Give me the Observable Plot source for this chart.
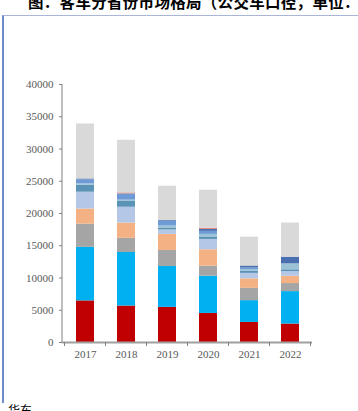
<!DOCTYPE html>
<html>
<head>
<meta charset="utf-8">
<script src="https://cdn.jsdelivr.net/npm/d3@7"></script>
<script src="https://cdn.jsdelivr.net/npm/@observablehq/plot@0.6"></script>
<style>
  html, body { margin: 0; padding: 0; background: #fff; }
  body { width: 358px; height: 411px; position: relative; overflow: hidden; }
  #title { position: absolute; left: 28px; top: -6px; font: bold 15.5px/15px "Noto Sans CJK SC", sans-serif; letter-spacing: 0.3px; white-space: nowrap; color: #000; }
  #box { position: absolute; left: 2px; top: 15px; width: 400px; height: 388px; border-top: 1px solid #A9B6D8; border-left: 2px solid #7088CC; box-sizing: border-box; }
  #chart { position: absolute; left: 0; top: 0; }
  #source { position: absolute; left: 8px; top: 404px; font: 12px/12px "Noto Sans CJK SC", sans-serif; color: #000; white-space: nowrap; }
</style>
</head>
<body>
<div id="title">图：客车分省份市场格局（公交车口径，单位：辆）</div>
<div id="box"></div>
<div id="chart"></div>
<div id="source">华东</div>
<script>
const years = ["2017", "2018", "2019", "2020", "2021", "2022"];
const seriesNames = ["S1", "S2", "S3", "S4", "S5", "S6", "S7", "S8", "S9", "S10", "其他"];
const seriesColors = ["#C00000", "#00B0F0", "#A5A5A5", "#F4B183", "#B4C7E7", "#5A93B6", "#9CC2D6", "#6E9BD6", "#4A6FAE", "#E0806E", "#D9D9D9"];

const s1  = [6450, 5650, 5450, 4510, 3110, 2860];
const s2  = [8300, 8300, 6330, 5760, 3380, 5030];
const s3  = [3600, 2200, 2490, 1560, 1910, 1250];
const s4  = [2350, 2370, 2490, 2550, 1470, 1130];
const s5  = [2600, 2450, 685, 1600, 850, 730];
const s6  = [1100, 900, 310, 390, 310, 265];
const s7  = [200, 200, 310, 390, 250, 930];
const s8  = [600, 970, 715, 470, 265, 0];
const s9  = [150, 0, 120, 310, 310, 1030];
const s10 = [0, 150, 0, 155, 0, 0];
const s11 = [8530, 8160, 5330, 5910, 4485, 5295];
const yTicks = [0, 5000, 10000, 15000, 20000, 25000, 30000, 35000, 40000];

const allSeries = [s1, s2, s3, s4, s5, s6, s7, s8, s9, s10, s11];
const data = [];
years.forEach((yr, i) => {
  allSeries.forEach((s, j) => data.push({year: yr, series: seriesNames[j], value: s[i]}));
});

const chart = Plot.plot({
  width: 358,
  height: 411,
  marginLeft: 62,
  marginRight: 46,
  marginTop: 84,
  marginBottom: 69,
  style: {background: "transparent", overflow: "visible"},
  x: {domain: years, paddingInner: 0.57, paddingOuter: 0.285, label: null},
  y: {domain: [0, 40000], label: null},
  color: {domain: seriesNames, range: seriesColors},
  marks: [
    Plot.barY(data, {x: "year", y: "value", fill: "series", inset: 0}),
    Plot.ruleY([0], {stroke: "#A0A0A0", strokeWidth: 2}),
    Plot.axisY({ticks: yTicks, tickFormat: "d", tickSize: 3, tickPadding: 6, fontSize: 11, fontFamily: "Liberation Serif, serif", color: "#595959", stroke: "#808080"}),
    Plot.axisX({tickSize: 0, tickPadding: 8, fontSize: 11, fontFamily: "Liberation Serif, serif", color: "#595959"})
  ]
});

document.getElementById("chart").appendChild(chart);

// y axis line and category boundary ticks, derived from the library's scales
const xs = chart.scale("x");
const ys = chart.scale("y");
const svg = d3.select(chart);
const y0 = ys.apply(0), yTop = ys.apply(40000);
const x0 = xs.range[0];
svg.append("line").attr("x1", x0).attr("x2", x0).attr("y1", yTop).attr("y2", y0)
  .attr("stroke", "#808080").attr("stroke-width", 1);
const step = xs.step;
const firstStart = xs.apply(years[0]) - (step - xs.bandwidth) / 2;
for (let i = 0; i <= years.length; i++) {
  const bx = firstStart + i * step;
  svg.append("line").attr("x1", bx).attr("x2", bx).attr("y1", y0).attr("y2", y0 + 4)
    .attr("stroke", "#808080").attr("stroke-width", 1);
}
</script>
</body>
</html>
